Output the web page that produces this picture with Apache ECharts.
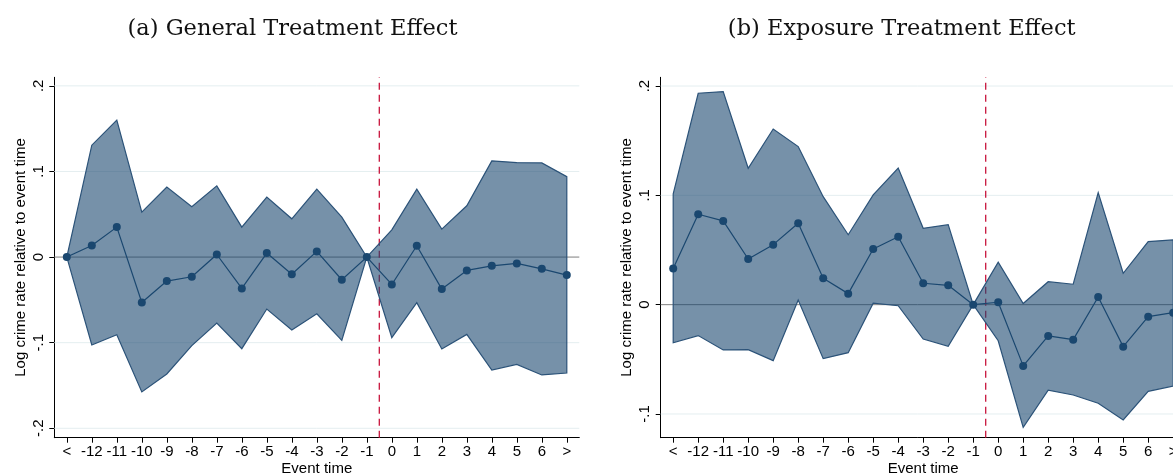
<!DOCTYPE html>
<html>
<head>
<meta charset="utf-8">
<script src="https://cdn.jsdelivr.net/npm/echarts@6/dist/echarts.min.js"></script>
<style>
html,body{margin:0;padding:0;background:#fff;}
#c{width:1173px;height:476px;}
</style>
</head>
<body>
<div id="c"></div>
<script>
// ---- data ----
const categories = ['<','-12','-11','-10','-9','-8','-7','-6','-5','-4','-3','-2','-1','0','1','2','3','4','5','6','>'];
const titles = ['(a) General Treatment Effect', '(b) Exposure Treatment Effect'];
const yAxisTitle = 'Log crime rate relative to event time';
const xAxisTitle = 'Event time';

const genEst = [0, 0.0135, 0.035, -0.053, -0.028, -0.023, 0.003, -0.0366, 0.0047, -0.020, 0.0066, -0.0265, 0, -0.032, 0.0132, -0.0374, -0.0156, -0.0102, -0.0074, -0.0137, -0.021];
const genHi  = [0, 0.1307, 0.160, 0.0525, 0.0817, 0.0587, 0.0832, 0.035, 0.070, 0.0447, 0.0793, 0.0467, 0, 0.0318, 0.0793, 0.0327, 0.0599, 0.1124, 0.1104, 0.110, 0.094];
const genLo  = [0, -0.1027, -0.0907, -0.1575, -0.1366, -0.1035, -0.077, -0.107, -0.0607, -0.0852, -0.0662, -0.0973, 0, -0.0942, -0.0533, -0.1074, -0.0903, -0.1319, -0.1253, -0.1377, -0.1354];

const expEst = [0.033, 0.0827, 0.0766, 0.0418, 0.0549, 0.0745, 0.0241, 0.0101, 0.051, 0.0622, 0.0196, 0.0177, 0, 0.0022, -0.056, -0.0286, -0.032, 0.007, -0.0384, -0.011, -0.0073];
const expHi  = [0.1013, 0.1934, 0.1949, 0.1248, 0.1607, 0.1446, 0.0988, 0.064, 0.1004, 0.125, 0.0699, 0.0732, 0, 0.0388, 0.001, 0.021, 0.0187, 0.1025, 0.0287, 0.0577, 0.0592];
const expLo  = [-0.0348, -0.0283, -0.0414, -0.0411, -0.0512, 0.0043, -0.0494, -0.0439, 0.0013, -0.0010, -0.0314, -0.038, 0, -0.033, -0.1122, -0.0783, -0.0826, -0.0902, -0.1055, -0.0793, -0.0744];

const genTicks = [-0.2, -0.1, 0, 0.1, 0.2];
const genTickLabels = ['-.2', '-.1', '0', '.1', '.2'];
const expTicks = [-0.1, 0, 0.1, 0.2];
const expTickLabels = ['-.1', '0', '.1', '.2'];
const genRange = [-0.211, 0.21];
const expRange = [-0.1217, 0.208];

// ---- styles ----
const NAVY = '#1a476f';
const FILL = 'rgba(26,71,111,0.6)';
const EDGE = '#2b5278';
const FONT = 'Liberation Sans';
const nCat = categories.length;
const refIdx = categories.indexOf('-1') + 0.5;

const panels = [
  {est: genEst, hi: genHi, lo: genLo, ticks: genTicks, labels: genTickLabels, range: genRange,
   grid: {left: 54.3, right: 593.7, top: 77.3, bottom: 38.3}, titleX: 292.5},
  {est: expEst, hi: expHi, lo: expLo, ticks: expTicks, labels: expTickLabels, range: expRange,
   grid: {left: 660.7, right: -12.7, top: 77.3, bottom: 38.3}, titleX: 901.7}
];

const option = {
  animation: false,
  backgroundColor: '#fff',
  grid: [], xAxis: [], yAxis: [], series: [],
  graphic: []
};

panels.forEach((p, g) => {
  option.grid.push(Object.assign({containLabel: false, outerBoundsMode: 'none'}, p.grid));
  // visible category axis
  option.xAxis.push({
    type: 'category', gridIndex: g, data: categories, boundaryGap: true, position: 'bottom',
    name: xAxisTitle, nameLocation: 'middle', nameGap: 24, nameMoveOverlap: false,
    nameTextStyle: {fontFamily: FONT, fontSize: 15, color: '#000'},
    axisLine: {show: true, onZero: false, lineStyle: {color: '#000', width: 1}},
    axisTick: {show: true, alignWithLabel: true, length: 5, lineStyle: {color: '#000'}},
    axisLabel: {interval: 0, margin: 7, fontFamily: FONT, fontSize: 15, color: '#000'},
    splitLine: {show: false}
  });
  // hidden value axis for reference lines
  option.xAxis.push({
    type: 'value', gridIndex: g, min: -0.5, max: nCat - 0.5, show: false,
    axisLine: {onZero: false}
  });
  option.yAxis.push({
    type: 'value', gridIndex: g, min: p.range[0], max: p.range[1], position: 'left',
    name: yAxisTitle, nameLocation: 'middle', nameGap: 26, nameMoveOverlap: false,
    nameTextStyle: {fontFamily: FONT, fontSize: 15, color: '#000'},
    axisLine: {show: true, onZero: false, lineStyle: {color: '#000', width: 1}},
    axisTick: {show: true, length: 5, lineStyle: {color: '#000'}, customValues: p.ticks},
    axisLabel: {rotate: 90, margin: 8, fontFamily: FONT, fontSize: 15, color: '#000',
      customValues: p.ticks,
      formatter: v => { const i = p.ticks.findIndex(t => Math.abs(t - v) < 1e-9); return i >= 0 ? p.labels[i] : ''; }},
    splitLine: {show: false}
  });
  const xCat = g * 2, xVal = g * 2 + 1;
  // gridlines
  p.ticks.forEach(t => {
    option.series.push({
      type: 'line', xAxisIndex: xVal, yAxisIndex: g, silent: true, symbol: 'none', z: 1,
      data: [[-0.5, t], [nCat - 0.5, t]],
      lineStyle: t === 0 ? {color: '#7f7f7f', width: 1} : {color: '#e4eef0', width: 1}
    });
  });
  // vertical dashed reference line
  option.series.push({
    type: 'line', xAxisIndex: xVal, yAxisIndex: g, silent: true, symbol: 'none', z: 1,
    data: [[refIdx, p.range[0]], [refIdx, p.range[1]]],
    lineStyle: {color: '#c8143c', width: 1.3, type: [7, 5]}
  });
  // confidence band polygon
  option.series.push({
    type: 'custom', xAxisIndex: xCat, yAxisIndex: g, z: 2, silent: true,
    data: [[0, 0]],
    renderItem: (params, api) => {
      const pts = [];
      p.hi.forEach((v, i) => pts.push(api.coord([i, v])));
      for (let i = p.lo.length - 1; i >= 0; i--) pts.push(api.coord([i, p.lo[i]]));
      return {type: 'polygon', shape: {points: pts},
        style: {fill: FILL, stroke: EDGE, lineWidth: 1.2, lineJoin: 'miter'}};
    }
  });
  // point estimates
  option.series.push({
    type: 'line', xAxisIndex: xCat, yAxisIndex: g, z: 3,
    data: p.est,
    symbol: 'circle', symbolSize: 8, showSymbol: true,
    itemStyle: {color: NAVY},
    lineStyle: {color: NAVY, width: 1.2}
  });
  option.graphic.push({
    type: 'text', x: p.titleX, y: 29,
    style: {text: titles[g], font: '22.5px "DejaVu Serif"', fill: '#111',
      textAlign: 'center', textVerticalAlign: 'middle'}
  });
});

const chart = echarts.init(document.getElementById('c'), null, {renderer: 'canvas'});
chart.setOption(option);
</script>
</body>
</html>
